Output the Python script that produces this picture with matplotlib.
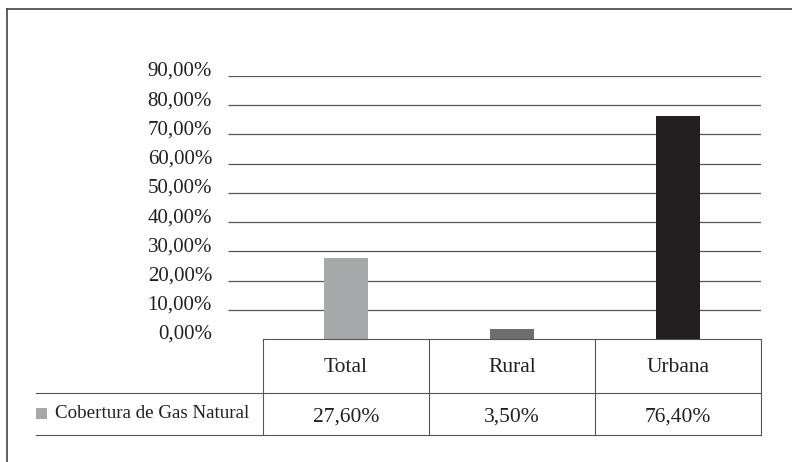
import matplotlib.pyplot as plt
from matplotlib.lines import Line2D
from matplotlib.patches import Rectangle
from matplotlib.ticker import FuncFormatter

categories = ["Total", "Rural", "Urbana"]
values = [0.276, 0.035, 0.764]
value_labels = ["27,60%", "3,50%", "76,40%"]
bar_colors = ["#a7a8aa", "#6d6e70", "#231f20"]
series_name = "Cobertura de Gas Natural"
yticks = [0.0, 0.1, 0.2, 0.3, 0.4, 0.5, 0.6, 0.7, 0.8, 0.9]

W, H = 792, 462
plt.rcParams["font.family"] = ["Liberation Serif", "DejaVu Serif"]
line_col = "#555555"
text_col = "#231f20"

fig = plt.figure(figsize=(W / 100, H / 100), dpi=100)


def fx(x):
    return x / W


def fy(y):
    return 1 - y / H


def fline(x0, y0, x1, y1, lw=0.8, color=line_col):
    fig.add_artist(Line2D([fx(x0), fx(x1)], [fy(y0), fy(y1)],
                          transform=fig.transFigure, color=color, lw=lw))


# plot area (pixels)
left, right, top, bottom = 228, 761, 76, 339
cat_left = 263
cat_w = (right - cat_left) / len(categories)

ax = fig.add_axes([fx(left), fy(bottom), fx(right - left), (bottom - top) / H])
ax.set_ylim(0, 0.9)
ax.set_xlim(-0.5 - (cat_left - left) / cat_w, len(categories) - 0.5)

xs = list(range(len(categories)))
gl = [t for t in yticks if t > 0]
ax.hlines(gl, *ax.get_xlim(), colors=line_col, lw=0.9, zorder=1)
ax.bar(xs, values, width=44 / cat_w, color=bar_colors, zorder=2)

ax.set_yticks(yticks)
ax.yaxis.set_major_formatter(FuncFormatter(lambda v, p: f"{v*100:.2f}%".replace(".", ",")))
ax.tick_params(axis="y", length=0, pad=11.5, labelsize=15, labelcolor=text_col)
plt.setp(ax.get_yticklabels(), va="baseline")
ax.set_xticks([])
for s in ax.spines.values():
    s.set_visible(False)

# data table
row1, row2, row3 = 339, 393, 435
tab_left = 36
fline(cat_left, row1, right, row1)
fline(tab_left, row2, right, row2)
fline(tab_left, row3, right, row3)
for i in range(len(categories) + 1):
    x = cat_left + i * cat_w
    fline(x, row1, x, row3)

for i, (c, v) in enumerate(zip(categories, value_labels)):
    cx = cat_left + (i + 0.5) * cat_w
    fig.text(fx(cx), fy(368), c, ha="center", va="center",
             fontsize=15.5, color=text_col)
    fig.text(fx(cx), fy(417), v, ha="center", va="center",
             fontsize=15.5, color=text_col)

fig.add_artist(Rectangle((fx(36), fy(419)), fx(11), 11 / H,
                         transform=fig.transFigure, color=bar_colors[0], lw=0))
fig.text(fx(55), fy(414), series_name, ha="left", va="center",
         fontsize=13.7, color=text_col)

# outer frame (top and left only)
fline(7, 9, W, 9, lw=1.2, color="#444444")
fline(7, 9, 7, H, lw=1.2, color="#444444")

fig.savefig("out.png", dpi=100)
